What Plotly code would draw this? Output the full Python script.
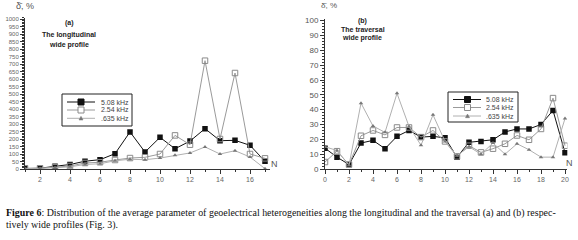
import plotly.graph_objects as go

# ---- data ----
n_long = list(range(1, 18))
long_508 = [3, 5, 18, 30, 52, 62, 102, 247, 113, 211, 135, 186, 269, 189, 191, 158, 51]
long_254 = [5, 5, 12, 20, 40, 45, 60, 73, 78, 100, 224, 162, 722, 200, 640, 100, 71]
long_635 = [2, 3, 8, 15, 30, 35, 55, 65, 62, 73, 91, 107, 147, 100, 122, 80, 2]

n_trav = list(range(0, 21))
trav_508 = [14, 8, 3, 17.5, 19.3, 13.7, 22, 26, 21.5, 22, 21, 8, 18, 18.6, 19.7, 25, 27, 27, 30, 39.5, 11]
trav_254 = [4.7, 12, 3, 22.4, 26, 23, 28, 28, 21.5, 26, 18.6, 8.5, 15.7, 11.2, 13.7, 17, 22.6, 19.7, 27, 47.8, 15.7]
trav_635 = [15, 12.5, 2.5, 44.4, 29, 24.7, 51, 28.7, 16, 36.5, 18.6, 9, 15, 10, 17.5, 10, 17, 13, 8, 8, 34]

series_names = ["5.08 kHz", "2.54 kHz", ".635 kHz"]
long_ticks = [2, 4, 6, 8, 10, 12, 14, 16]
trav_ticks = [0, 2, 4, 6, 8, 10, 12, 14, 16, 18, 20]

W, H = 578, 240
colors = ["#111111", "#9a9a9a", "#b0b0b0"]
styles = [
    dict(line=dict(color=colors[0], width=1), marker=dict(symbol="square", size=5.5, color="#111111")),
    dict(line=dict(color=colors[1], width=1), marker=dict(symbol="square-open", size=5.5, color="#8a8a8a", line=dict(width=1))),
    dict(line=dict(color=colors[2], width=1), marker=dict(symbol="triangle-up", size=4, color="#777777")),
]

fig = go.Figure()
for name, ys, st in zip(series_names, [long_508, long_254, long_635], styles):
    fig.add_trace(go.Scatter(x=n_long, y=ys, name=name, mode="lines+markers",
                             xaxis="x", yaxis="y", showlegend=False, **st))
for name, ys, st in zip(series_names, [trav_508, trav_254, trav_635], styles):
    fig.add_trace(go.Scatter(x=n_trav, y=ys, name=name, mode="lines+markers",
                             xaxis="x2", yaxis="y2", showlegend=False, **st))

ax_common = dict(showgrid=False, zeroline=False, showline=True, linecolor="#333333", linewidth=1,
                 ticks="outside", tickcolor="#333333", ticklen=4, automargin=False,
                 tickfont=dict(family="Arial, Liberation Sans", size=7, color="#666666"))

y0 = (H - 169) / H
fig.update_layout(
    width=W, height=H, margin=dict(l=0, r=0, t=0, b=0),
    paper_bgcolor="white", plot_bgcolor="white", showlegend=False,
    xaxis=dict(domain=[25 / W, 270 / W], range=[1, 1 + 245 / 15], tickvals=long_ticks,
               minor=dict(ticks="outside", ticklen=2, dtick=1, tickcolor="#333333"), **ax_common),
    yaxis=dict(domain=[y0, (H - 17.5) / H], range=[0, 1010], dtick=50,
               minor=dict(ticks="outside", ticklen=2, dtick=10, tickcolor="#333333"),
               **{**ax_common, "tickfont": dict(family="Arial, Liberation Sans", size=6, color="#666666")}),
    xaxis2=dict(domain=[325 / W, 567.4 / W], range=[0, 20.2], tickvals=trav_ticks, anchor="y2",
                minor=dict(ticks="outside", ticklen=2, dtick=1, tickcolor="#333333"), **ax_common),
    yaxis2=dict(domain=[y0, (H - 19.2) / H], range=[0, 101], dtick=10, anchor="x2",
                minor=dict(ticks="outside", ticklen=2, dtick=2, tickcolor="#333333"),
                **{**ax_common, "tickfont": dict(family="Arial, Liberation Sans", size=8, color="#555555")}),
)

def txt(x, y, s, size=8, color="#222222", family="Arial, Liberation Sans", xanchor="center"):
    fig.add_annotation(x=x / W, y=1 - y / H, xref="paper", yref="paper", text=s, showarrow=False,
                       xanchor=xanchor, yanchor="middle", font=dict(family=family, size=size, color=color))

def px(x, y):
    return x / W, 1 - y / H

def shape_rect(x0, y0_, x1, y1, line_color, fill=None, width=1):
    a, b = px(x0, y0_)
    c, d = px(x1, y1)
    fig.add_shape(type="rect", xref="paper", yref="paper", x0=a, y0=b, x1=c, y1=d,
                  line=dict(color=line_color, width=width), fillcolor=fill or "rgba(0,0,0,0)")

def shape_line(x0, y0_, x1, y1, color):
    a, b = px(x0, y0_)
    c, d = px(x1, y1)
    fig.add_shape(type="line", xref="paper", yref="paper", x0=a, y0=b, x1=c, y1=d,
                  line=dict(color=color, width=1))

def legend_box(bx0, by0, bx1, by1, rows, lx0, lx1, mx, tx):
    shape_rect(bx0, by0, bx1, by1, "#222222", "white")
    for i, (name, ry) in enumerate(zip(series_names, rows)):
        shape_line(lx0, ry, lx1, ry, colors[i])
        if i == 0:
            shape_rect(mx - 3, ry - 3, mx + 3, ry + 3, "#111111", "#111111")
        elif i == 1:
            shape_rect(mx - 3, ry - 3, mx + 3, ry + 3, "#8a8a8a", "white")
        else:
            fig.add_shape(type="path", xref="paper", yref="paper",
                          path="M {} {} L {} {} L {} {} Z".format(*px(mx - 2, ry + 1.7), *px(mx + 2, ry + 1.7), *px(mx, ry - 2)),
                          line=dict(color="#777777", width=0.5), fillcolor="#777777")
        txt(tx, ry, name, size=7, color="#444444", xanchor="left")

legend_box(62, 94, 132, 126, [102, 110, 118.3], 67, 95, 81, 99)
legend_box(448, 92, 518, 122, [99.5, 107.5, 116], 453, 481, 467.5, 484)

txt(69, 23, "<b>(a)</b>", size=7)
txt(69, 35, "<b>The longitudinal</b>", size=7)
txt(69, 45, "<b>wide profile</b>", size=7)
txt(362, 20.7, "<b>(b)</b>", size=7)
txt(363, 29.3, "<b>The traversal</b>", size=7)
txt(362, 38.3, "<b>wide profile</b>", size=7)
txt(25, 6, "δ̄, %", size=9, color="#555555")
txt(329, 5, "δ̄, %", size=8, color="#555555")
txt(274, 164, "N", size=9, color="#555555")
txt(569, 163, "N", size=9, color="#555555")
txt(4, 213, "<b>Figure 6</b>: Distribution of the average parameter of geoelectrical heterogeneities along the longitudinal and the traversal (a) and (b) respec-",
    size=9.95, color="#111111", family="Liberation Serif", xanchor="left")
txt(4, 225, "tively wide profiles (Fig. 3).", size=9.95, color="#111111", family="Liberation Serif", xanchor="left")

fig.write_html("out.html", config={"displayModeBar": False},
               post_script="document.body.style.margin='0';document.body.style.padding='0';")
